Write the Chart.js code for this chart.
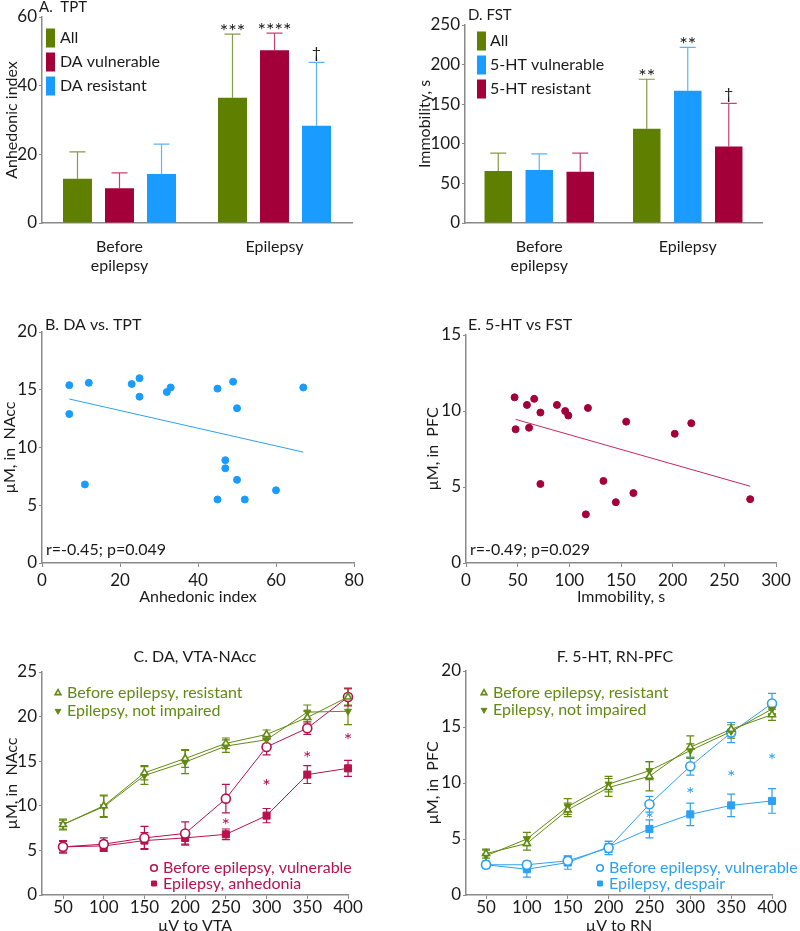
<!DOCTYPE html>
<html>
<head>
<meta charset="utf-8">
<script src="https://cdn.jsdelivr.net/npm/chart.js@4.4.0/dist/chart.umd.min.js"></script>
<style>
  body { margin: 0; background: #fff; }
  #page { position: relative; width: 800px; height: 931px; overflow: hidden; }
  .panel { position: absolute; }
</style>
</head>
<body>
<div id="page">
  <div class="panel" style="left:0;top:0"><canvas id="cA" width="400" height="280"></canvas></div>
  <div class="panel" style="left:400px;top:0"><canvas id="cD" width="400" height="280"></canvas></div>
  <div class="panel" style="left:0;top:280px"><canvas id="cB" width="400" height="330"></canvas></div>
  <div class="panel" style="left:400px;top:280px"><canvas id="cE" width="400" height="330"></canvas></div>
  <div class="panel" style="left:0;top:610px"><canvas id="cC" width="400" height="324"></canvas></div>
  <div class="panel" style="left:400px;top:610px"><canvas id="cF" width="400" height="324"></canvas></div>
</div>
<script>
// ---- data ----
const phases = [['Before', 'epilepsy'], 'Epilepsy'];

// A. TPT (anhedonic index), mean and SD
const tptAll = [12.9, 36.5], tptAllSd = [7.8, 18.5], tptAllSig = ['', '***'];
const tptVul = [10.1, 50.3], tptVulSd = [4.5, 5.0], tptVulSig = ['', '****'];
const tptRes = [14.3, 28.3], tptResSd = [8.7, 18.5], tptResSig = ['', '\u2020'];

// D. FST (immobility, s)
const fstAll = [65.5, 119], fstAllSd = [22.7, 62.5], fstAllSig = ['', '**'];
const fstVul = [66.8, 167], fstVulSd = [20.6, 54.8], fstVulSig = ['', '**'];
const fstRes = [64.7, 96.6], fstResSd = [23.5, 54.4], fstResSig = ['', '\u2020'];

// B. DA vs TPT
const bIndex = [7, 7, 12, 11, 23, 25, 25, 32, 33, 45, 49, 50, 67, 47, 47, 50, 45, 52, 60];
const bDA = [15.4, 12.9, 15.6, 6.8, 15.5, 16.0, 14.4, 14.8, 15.2, 15.1, 15.7, 13.4, 15.2, 8.9, 8.2, 7.2, 5.5, 5.5, 6.3];
const bTrendX = [7, 67], bTrendY = [14.2, 9.6];

// E. 5-HT vs FST
const eImm = [47, 48, 59, 61, 66, 72, 72, 88, 96, 99, 118, 116, 133, 145, 155, 162, 202, 218, 275];
const eHT = [10.9, 8.8, 10.4, 8.9, 10.8, 9.9, 5.2, 10.4, 10.0, 9.7, 10.2, 3.2, 5.4, 4.0, 9.3, 4.6, 8.5, 9.2, 4.2];
const eTrendX = [48, 275], eTrendY = [9.45, 5.05];

// C / F. stimulation curves
const doses = [50, 100, 150, 200, 250, 300, 350, 400];
const daResist = [7.9, 10.0, 13.7, 15.3, 17.0, 18.0, 19.9, 22.2];
const daResistSd = [0.6, 1.2, 0.8, 1.0, 0.6, 0.5, 0.7, 0.9];
const daIntact = [7.9, 9.9, 13.4, 14.9, 16.7, 17.4, 20.5, 20.6];
const daIntactSd = [0.5, 1.2, 1.0, 1.3, 0.7, 0.5, 0.8, 1.5];
const daVuln = [5.4, 5.7, 6.4, 6.9, 10.8, 16.6, 18.7, 22.2];
const daVulnSd = [0.7, 0.7, 1.3, 1.3, 1.6, 0.9, 0.7, 1.0];
const daAnhed = [5.4, 5.5, 6.1, 6.4, 6.8, 8.9, 13.5, 14.2];
const daAnhedSd = [0.6, 0.6, 0.9, 0.7, 0.6, 0.8, 1.0, 0.9];
const daStars = [null, null, null, null, 8.3, 12.7, 15.8, 17.8];

const htResist = [3.7, 4.6, 7.6, 9.6, 10.6, 13.2, 14.8, 16.1];
const htResistSd = [0.4, 0.6, 0.6, 0.8, 1.3, 1.0, 0.6, 0.5];
const htIntact = [3.5, 5.0, 7.9, 9.9, 11.1, 12.9, 14.6, 16.6];
const htIntactSd = [0.5, 0.6, 0.7, 0.7, 0.8, 0.6, 0.6, 0.5];
const htVuln = [2.7, 2.7, 3.05, 4.2, 8.1, 11.5, 14.5, 17.1];
const htVulnSd = [0.3, 0.3, 0.4, 0.6, 0.7, 0.8, 0.9, 0.9];
const htDesp = [2.7, 2.3, 2.9, 4.3, 5.9, 7.2, 8.0, 8.4];
const htDespSd = [0.3, 0.7, 0.6, 0.5, 0.8, 1.0, 1.0, 1.1];
const htStars = [null, null, null, null, 7.1, 9.4, 10.9, 12.4];

// ---- styles ----
const INK = '#1a1a1a', AXIS = '#8a8a8a';
const GREEN = '#5f7f00', GREEN_ERR = '#879a45', GREEN_LINE = '#628a12';
const CRIMSON = '#a3003a', CRIMSON_ERR = '#c8446f', ROSE = '#b8124d';
const BLUE = '#1a9bff', BLUE_ERR = '#5ab4ff', SKY = '#2ea0f2';

Chart.defaults.font.family = 'Lato, "Open Sans", sans-serif';
Chart.defaults.color = INK;

const errorBars = {
  id: 'errorBars',
  beforeDatasetsDraw(chart) {
    const ctx = chart.ctx;
    chart.data.datasets.forEach((ds, i) => {
      if (!ds.errors) return;
      const meta = chart.getDatasetMeta(i);
      const y = chart.scales[meta.yAxisID];
      ctx.save();
      ctx.strokeStyle = ds.errorColor;
      ctx.lineWidth = 1.2;
      meta.data.forEach((el, j) => {
        const e = ds.errors[j];
        if (e == null) return;
        const raw = ds.data[j];
        const v = typeof raw === 'number' ? raw : raw.y;
        const top = y.getPixelForValue(v + e);
        const bot = y.getPixelForValue(ds.oneSided ? v : v - e);
        const c = ds.capHalf;
        ctx.beginPath();
        ctx.moveTo(el.x, bot); ctx.lineTo(el.x, top);
        ctx.moveTo(el.x - c, top); ctx.lineTo(el.x + c, top);
        if (!ds.oneSided) { ctx.moveTo(el.x - c, bot); ctx.lineTo(el.x + c, bot); }
        ctx.stroke();
      });
      ctx.restore();
    });
  },
  afterDatasetsDraw(chart) {
    const ctx = chart.ctx;
    chart.data.datasets.forEach((ds, i) => {
      if (!ds.marks) return;
      const meta = chart.getDatasetMeta(i);
      const y = chart.scales[meta.yAxisID];
      ctx.save();
      ctx.fillStyle = INK;
      ctx.textAlign = 'center';
      ctx.textBaseline = 'alphabetic';
      meta.data.forEach((el, j) => {
        const m = ds.marks[j];
        if (!m) return;
        const top = y.getPixelForValue(ds.data[j] + ds.errors[j]);
        if (m === '\u2020') {
          ctx.font = '16px Lato';
          ctx.fillText(m, el.x, top - 4);
        } else {
          ctx.font = '20px Lato';
          ctx.fillText(m, el.x, top + 4);
        }
      });
      ctx.restore();
    });
  }
};

function marker(ctx, style, x, y, r, down) {
  ctx.beginPath();
  if (style === 'circle') ctx.arc(x, y, r, 0, Math.PI * 2);
  else if (style === 'rect') ctx.rect(x - r * 0.75, y - r * 0.75, r * 1.5, r * 1.5);
  else {
    const s = down ? -1 : 1;
    ctx.moveTo(x, y - s * r);
    ctx.lineTo(x + r * 0.87, y + s * r * 0.5);
    ctx.lineTo(x - r * 0.87, y + s * r * 0.5);
    ctx.closePath();
  }
  ctx.fill();
  ctx.stroke();
}

function decor(cfg) {
  return {
    id: 'decor',
    afterDraw(chart) {
      const ctx = chart.ctx;
      ctx.save();
      ctx.textBaseline = 'middle';
      (cfg.notes || []).forEach(n => {
        ctx.font = (n.size || 15) + 'px Lato';
        ctx.fillStyle = INK;
        ctx.textAlign = n.align || 'left';
        ctx.fillText(n.text, n.x, n.y);
      });
      ctx.textAlign = 'left';
      (cfg.keys || []).forEach(g => {
        g.sets.forEach((di, k) => {
          const ds = chart.data.datasets[di];
          const y = g.y + k * g.dy;
          if (g.box) {
            ctx.fillStyle = ds.backgroundColor;
            ctx.fillRect(g.mx - 4.5, y - 9.5, 9, 19);
            ctx.fillStyle = INK;
          } else {
            ctx.fillStyle = ds.pointBackgroundColor;
            ctx.strokeStyle = ds.borderColor;
            ctx.lineWidth = ds.pointBorderWidth;
            marker(ctx, ds.pointStyle, g.mx, y, 3.3, ds.pointRotation === 180);
            ctx.fillStyle = ds.borderColor;
          }
          ctx.font = '16px Lato';
          ctx.fillText(ds.label, g.tx, y);
        });
      });
      if (cfg.stars) {
        const xs = chart.scales.x, ys = chart.scales.y;
        ctx.fillStyle = cfg.stars.color;
        ctx.font = '20px Lato';
        ctx.textAlign = 'center';
        ctx.textBaseline = 'alphabetic';
        cfg.stars.y.forEach((v, j) => {
          if (v == null) return;
          ctx.fillText('*', xs.getPixelForValue(doses[j]), ys.getPixelForValue(v) + 11);
        });
      }
      ctx.restore();
    }
  };
}

function yAxis(min, max, step, title, titlePad, width) {
  return {
    min, max,
    ticks: { stepSize: step, color: INK, font: { size: 17 }, padding: 2 },
    grid: { display: true, drawOnChartArea: false, tickLength: 3, color: AXIS },
    border: { display: true, color: AXIS, width: 1.5 },
    title: { display: true, text: title, color: INK, font: { size: 16 }, padding: { top: titlePad, bottom: 0 } },
    afterFit: s => { s.width = width; }
  };
}

function catAxis(height) {
  return {
    type: 'category',
    ticks: { color: INK, font: { size: 16, lineHeight: 1.2 }, padding: 6 },
    grid: { display: false },
    border: { display: true, color: AXIS, width: 1.5 },
    afterFit: s => { s.height = height; }
  };
}

// x axis whose natural height (tick + label + title) is close to the wanted height
function linAxis(min, max, step, title, height, tickPad, titlePadBottom, fixed) {
  const a = {
    type: 'linear', min, max,
    ticks: { stepSize: step, color: INK, font: { size: 17, lineHeight: 1 }, padding: tickPad },
    grid: { display: true, drawOnChartArea: false, tickLength: 4, color: AXIS },
    border: { display: true, color: AXIS, width: 1.5 },
    title: { display: true, text: title, color: INK, font: { size: 16, lineHeight: 1 }, padding: { top: 0, bottom: titlePadBottom } },
    afterFit: s => { s.height = height; }
  };
  if (fixed) a.afterBuildTicks = s => { s.ticks = fixed.map(v => ({ value: v })); };
  return a;
}

function baseOptions(pad, x, y) {
  return {
    responsive: false, animation: false,
    layout: { padding: pad },
    plugins: { legend: { display: false }, tooltip: { enabled: false } },
    scales: { x, y }
  };
}

function bar(label, data, errors, marks, color, errColor, cp, bp) {
  return {
    label, data, errors, marks, oneSided: true, capHalf: 8, errorColor: errColor,
    backgroundColor: color, borderWidth: 0, categoryPercentage: cp, barPercentage: bp
  };
}

function pts(xs, ys) { return xs.map((x, i) => ({ x, y: ys[i] })); }

function series(label, vals, errors, color, style, open, down) {
  return {
    label, data: pts(doses, vals), errors, errorColor: color, capHalf: 4,
    borderColor: color, borderWidth: 1, tension: 0, clip: false,
    pointStyle: style, pointRotation: down ? 180 : 0,
    pointRadius: style === 'circle' ? 4.5 : (style === 'rect' ? 5 : 4),
    pointBackgroundColor: open ? '#fff' : color, pointBorderColor: color,
    pointBorderWidth: open ? 1.6 : 1
  };
}

// A. TPT
new Chart(document.getElementById('cA'), {
  type: 'bar',
  data: {
    labels: phases,
    datasets: [
      bar('All', tptAll, tptAllSd, tptAllSig, GREEN, GREEN_ERR, 0.813, 0.69),
      bar('DA vulnerable', tptVul, tptVulSd, tptVulSig, CRIMSON, CRIMSON_ERR, 0.813, 0.69),
      bar('DA resistant', tptRes, tptResSd, tptResSig, BLUE, BLUE_ERR, 0.813, 0.69)
    ]
  },
  options: baseOptions({ left: 0, top: 17, right: 48, bottom: 0 }, catAxis(57),
    yAxis(0, 60, 20, 'Anhedonic index', 2, 42)),
  plugins: [errorBars, decor({
    notes: [{ text: 'A.  TPT', x: 39, y: 7 }],
    keys: [{ box: true, mx: 50.5, tx: 60, y: 38, dy: 24, sets: [0, 1, 2] }]
  })]
});

// D. FST
new Chart(document.getElementById('cD'), {
  type: 'bar',
  data: {
    labels: phases,
    datasets: [
      bar('All', fstAll, fstAllSd, fstAllSig, GREEN, GREEN_ERR, 0.828, 0.67),
      bar('5-HT vulnerable', fstVul, fstVulSd, fstVulSig, BLUE, BLUE_ERR, 0.828, 0.67),
      bar('5-HT resistant', fstRes, fstResSd, fstResSig, CRIMSON, CRIMSON_ERR, 0.828, 0.67)
    ]
  },
  options: baseOptions({ left: 0, top: 25, right: 38, bottom: 0 }, catAxis(57),
    yAxis(0, 250, 50, 'Immobility, s', 15, 65)),
  plugins: [errorBars, decor({
    notes: [{ text: 'D. FST', x: 68, y: 15 }],
    keys: [{ box: true, mx: 81.5, tx: 90, y: 41, dy: 24, sets: [0, 1, 2] }]
  })]
});

// B. DA vs TPT
new Chart(document.getElementById('cB'), {
  type: 'scatter',
  data: {
    datasets: [
      { data: pts(bIndex, bDA), backgroundColor: BLUE, borderColor: BLUE, pointRadius: 3.5, clip: false },
      { data: pts(bTrendX, bTrendY), showLine: true, borderColor: SKY, borderWidth: 1, pointRadius: 0 }
    ]
  },
  options: baseOptions({ left: 0, top: 52, right: 46, bottom: 0 },
    linAxis(0, 80, 20, 'Anhedonic index', 47, 5, 5),
    yAxis(0, 20, 5, '\u00b5M, in  NAcc', 0, 42)),
  plugins: [decor({
    notes: [{ text: 'B. DA vs. TPT', x: 45, y: 45, size: 16 }, { text: 'r=-0.45; p=0.049', x: 46, y: 270, size: 16 }]
  })]
});

// E. 5-HT vs FST
new Chart(document.getElementById('cE'), {
  type: 'scatter',
  data: {
    datasets: [
      { data: pts(eImm, eHT), backgroundColor: CRIMSON, borderColor: CRIMSON, pointRadius: 3.5, clip: false },
      { data: pts(eTrendX, eTrendY), showLine: true, borderColor: '#c8285a', borderWidth: 1, pointRadius: 0 }
    ]
  },
  options: baseOptions({ left: 0, top: 55, right: 24, bottom: 0 },
    linAxis(0, 300, 50, 'Immobility, s', 47, 5, 5),
    yAxis(0, 15, 5, '\u00b5M, in  PFC', 23, 66)),
  plugins: [decor({
    notes: [{ text: 'E. 5-HT vs FST', x: 68, y: 45, size: 16 }, { text: 'r=-0.49; p=0.029', x: 70, y: 270, size: 16 }]
  })]
});

// C. DA, VTA-NAcc
new Chart(document.getElementById('cC'), {
  type: 'line',
  data: {
    datasets: [
      series('Before epilepsy, resistant', daResist, daResistSd, GREEN_LINE, 'triangle', true, false),
      series('Epilepsy, not impaired', daIntact, daIntactSd, GREEN_LINE, 'triangle', false, true),
      series('Before epilepsy, vulnerable', daVuln, daVulnSd, ROSE, 'circle', true, false),
      series('Epilepsy, anhedonia', daAnhed, daAnhedSd, ROSE, 'rect', false, false)
    ]
  },
  options: baseOptions({ left: 0, top: 62, right: 52, bottom: 0 },
    linAxis(24.2, 400, 50, '\u00b5V to VTA', 39, 0, 0, doses),
    yAxis(0, 25, 5, '\u00b5M, in  NAcc', 2, 42)),
  plugins: [errorBars, decor({
    notes: [{ text: 'C. DA, VTA-NAcc', x: 195, y: 47, align: 'center', size: 16 }],
    keys: [
      { mx: 58, tx: 67, y: 83, dy: 18, sets: [0, 1] },
      { mx: 154, tx: 163, y: 258, dy: 15.5, sets: [2, 3] }
    ],
    stars: { y: daStars, color: ROSE }
  })]
});

// F. 5-HT, RN-PFC
new Chart(document.getElementById('cF'), {
  type: 'line',
  data: {
    datasets: [
      series('Before epilepsy, resistant', htResist, htResistSd, GREEN_LINE, 'triangle', true, false),
      series('Epilepsy, not impaired', htIntact, htIntactSd, GREEN_LINE, 'triangle', false, true),
      series('Before epilepsy, vulnerable', htVuln, htVulnSd, SKY, 'circle', true, false),
      series('Epilepsy, despair', htDesp, htDespSd, SKY, 'rect', false, false)
    ]
  },
  options: baseOptions({ left: 0, top: 61, right: 28, bottom: 0 },
    linAxis(25.5, 400, 50, '\u00b5V to RN', 39, 0, 0, doses),
    yAxis(0, 20, 5, '\u00b5M, in  PFC', 23, 66)),
  plugins: [errorBars, decor({
    notes: [{ text: 'F. 5-HT, RN-PFC', x: 215, y: 47, align: 'center', size: 16 }],
    keys: [
      { mx: 84, tx: 93, y: 83, dy: 17, sets: [0, 1] },
      { mx: 200, tx: 209, y: 258, dy: 15.5, sets: [2, 3] }
    ],
    stars: { y: htStars, color: SKY }
  })]
});
</script>
</body>
</html>
